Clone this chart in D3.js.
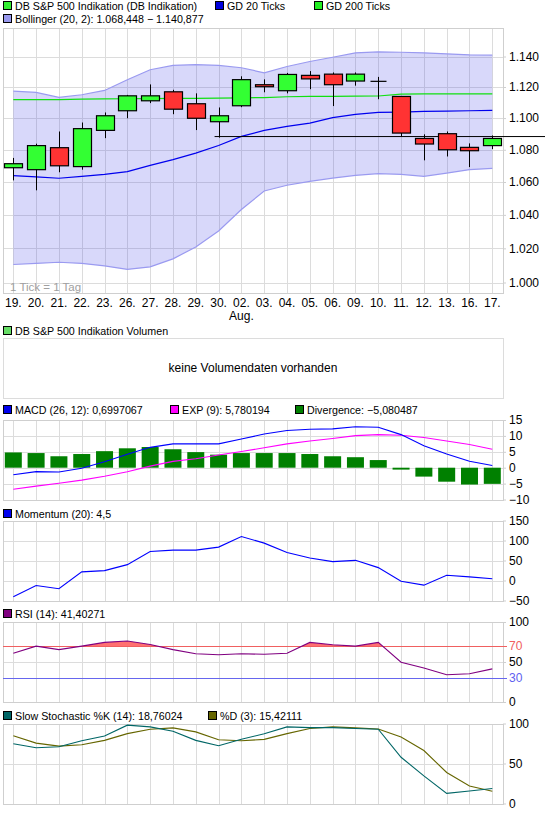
<!DOCTYPE html>
<html><head><meta charset="utf-8">
<script src="https://cdn.jsdelivr.net/npm/d3@7"></script>
<style>
body{margin:0;background:#fff;}
svg{display:block;font-family:"Liberation Sans",Arial,sans-serif;font-size:11px;}
</style></head>
<body>
<script>
const dates = ["19.","20.","21.","22.","23.","26.","27.","28.","29.","30.","02.","03.","04.","05.","06.","09.","10.","11.","12.","13.","16.","17."];
const subLabels = {"02.":"Aug."};
const open  = [1.0688,1.0676,1.0813,1.0695,1.0922,1.1047,1.1111,1.1169,1.1092,1.0977,1.1079,1.1215,1.1176,1.1276,1.1284,1.1239,1.1237,1.1139,1.0871,1.0901,1.0815,1.0826];
const close = [1.0713,1.0826,1.0700,1.0933,1.1015,1.1143,1.1143,1.1057,1.0999,1.1015,1.1248,1.1202,1.1282,1.1253,1.1215,1.1284,1.1237,1.0905,1.0836,1.0800,1.0794,1.0871];
const high  = [1.0749,1.0838,1.0915,1.0972,1.1036,1.1149,1.1217,1.1182,1.1159,1.1068,1.1270,1.1250,1.1292,1.1304,1.1295,1.1295,1.1266,1.1139,1.0897,1.0915,1.0840,1.0890];
const low   = [1.0610,1.0549,1.0660,1.0676,1.0873,1.0999,1.1096,1.1025,1.0924,1.0876,1.1070,1.1166,1.1159,1.1186,1.1077,1.1209,1.1121,1.0884,1.0734,1.0758,1.0692,1.0804];
const gd20  = [1.0639,1.0631,1.0623,1.0635,1.0647,1.0664,1.0703,1.0738,1.0779,1.0827,1.0884,1.0922,1.0947,1.0968,1.1003,1.1024,1.1036,1.1038,1.1043,1.1045,1.1047,1.1049];
const gd200 = [1.1118,1.1118,1.1118,1.1122,1.1123,1.1124,1.1125,1.1126,1.1127,1.1128,1.1130,1.1132,1.1137,1.1139,1.1140,1.1141,1.1142,1.1154,1.1155,1.1155,1.1156,1.1156];
const bollUpper = [1.1173,1.1165,1.1133,1.1150,1.1178,1.1247,1.1313,1.1341,1.1347,1.1341,1.1326,1.1293,1.1334,1.1367,1.1395,1.1424,1.1431,1.1428,1.1424,1.1418,1.1411,1.1409];
const bollLower = [1.0105,1.0111,1.0118,1.0111,1.0097,1.0076,1.0091,1.0138,1.0208,1.0303,1.0432,1.0545,1.0580,1.0604,1.0624,1.0641,1.0652,1.0647,1.0635,1.0655,1.0676,1.0684];
const refLine = 1.0883;
const refStart = 9;
const priceTicks = [1.000,1.020,1.040,1.060,1.080,1.100,1.120,1.140];

const macd       = [-2.2,-1.25,-1.35,-0.2,1.9,4.2,6.4,7.5,7.5,7.5,9.0,10.6,11.7,12.1,12.2,12.9,12.7,10.4,6.9,4.3,2.0,0.70];
const expLine    = [-6.8,-5.8,-4.9,-3.9,-2.7,-1.25,0.5,2.0,2.8,4.0,5.1,6.25,7.5,8.4,9.2,10.1,10.4,10.2,9.5,8.4,7.3,5.78];
const divergence = [4.8,4.6,3.6,4.3,5.2,6.1,6.5,5.8,4.9,4.1,4.6,4.6,4.6,4.3,3.6,3.3,2.4,-0.6,-2.8,-4.4,-5.3,-5.08];
const macdTicks  = [15,10,5,0,-5,-10];

const momentum   = [-40.5,-12.4,-20.7,21.5,24.8,39.7,72.7,76,76,83.5,110,93.4,70.2,56.2,47.1,50.4,32.2,-1.7,-11.6,13.2,9.1,4.5];
const momTicks   = [150,100,50,0,-50];

const rsi        = [60.9,69.8,65.5,69.8,74.5,76.2,71.9,65.5,60.4,59.1,60.4,59.6,60.9,74.5,71.5,69.8,74.5,49.8,42.6,34.0,35.3,41.4];
const rsiTicks   = [100,50,0];
const rsiLevels  = [70,30];

const stochK     = [74.7,69.6,70.9,78.5,84.4,97.9,95.8,90.3,78.9,72.2,80.2,87.3,95.8,94.9,94.9,93.7,92.8,57.8,34.6,12.7,15.6,18.76];
const stochD     = [84.8,75.5,71.7,73.4,78.9,87.3,92.8,94.5,89.5,79.7,78.5,80.2,87.3,93.7,95.8,94.5,93.2,83.1,66.2,38.8,21.9,15.42];
const stochTicks = [100,50,0];

const W = 545, H = 824;
const L = 3, R = 503;
const svg = d3.select("body").append("svg").attr("width", W).attr("height", H);
const x = d3.scalePoint().domain(d3.range(dates.length)).range([13.3, 492.3]);
const gridCol = "#dcdcdc", borderCol = "#cfcfcf";
const fmtDe = d3.formatLocale({decimal:",", thousands:".", grouping:[3], currency:["","€"], minus:"\u2212"});
const FONT = '"Liberation Sans",Arial,sans-serif';

function legend(y, items){
  const g = svg.append("g");
  items.forEach(it => {
    g.append("rect").attr("x", it.x+0.5).attr("y", y-4.5).attr("width", 8).attr("height", 8)
      .attr("fill", it.color).attr("stroke", "#000").attr("stroke-width", 1);
    g.append("text").attr("x", it.x+12).attr("y", y+4).attr("fill", "#000").attr("font-size", 10.7).text(it.label);
  });
}

function panelGrid(y, ticks, top, bottom, fmt){
  const g = svg.append("g").attr("shape-rendering","crispEdges");
  g.selectAll(".v").data(d3.range(dates.length)).join("line")
    .attr("x1", i => Math.round(x(i))+0.5).attr("x2", i => Math.round(x(i))+0.5)
    .attr("y1", top).attr("y2", bottom).attr("stroke", gridCol);
  g.selectAll(".h").data(ticks).join("line")
    .attr("x1", L).attr("x2", R).attr("y1", d => Math.round(y(d))+0.5).attr("y2", d => Math.round(y(d))+0.5)
    .attr("stroke", gridCol);
  g.append("rect").attr("x", L+0.5).attr("y", Math.round(top)+0.5).attr("width", R-L).attr("height", Math.round(bottom)-Math.round(top))
    .attr("fill","none").attr("stroke", borderCol);
  const ax = svg.append("g").attr("transform", `translate(${R},0)`)
    .call(d3.axisRight(y).tickValues(ticks).tickSize(3).tickPadding(3).tickFormat(fmt));
  ax.select(".domain").remove();
  ax.selectAll(".tick line").attr("stroke", borderCol);
  ax.selectAll("text").attr("font-size", 12).attr("font-family", FONT).attr("fill", "#000");
  return g;
}

// ---------- Main chart ----------
legend(6, [
  {x:3, color:"#33ee33", label:"DB S&P 500 Indikation (DB Indikation)"},
  {x:215, color:"#0000dd", label:"GD 20 Ticks"},
  {x:314, color:"#22ee22", label:"GD 200 Ticks"}
]);
legend(19, [{x:3, color:"#9999ee", label:"Bollinger (20, 2): 1.068,448 \u2212 1.140,877"}]);

const yP = d3.scaleLog().domain([1.000, 1.140]).range([282.5, 56.5]);
const mainTop = 28, mainBot = 293;
panelGrid(yP, priceTicks, mainTop, mainBot, d3.format(".3f"));

svg.append("text").attr("x", 10).attr("y", 291).attr("fill", "#a0a0a0").attr("font-size", 11.5).text("1 Tick = 1 Tag");

// Bollinger band
const bandArea = d3.area().x((d,i)=>x(i)).y0((d,i)=>yP(bollLower[i])).y1((d,i)=>yP(bollUpper[i]));
svg.append("path").datum(bollUpper).attr("d", bandArea).attr("fill", "rgba(77,77,233,0.22)");
const lineP = arr => d3.line().x((d,i)=>x(i)).y(d=>yP(d))(arr);
svg.append("path").attr("d", lineP(bollUpper)).attr("fill","none").attr("stroke","#9a9af0").attr("stroke-width",1.2);
svg.append("path").attr("d", lineP(bollLower)).attr("fill","none").attr("stroke","#9a9af0").attr("stroke-width",1.2);
svg.append("path").attr("d", lineP(gd200)).attr("fill","none").attr("stroke","#11e011").attr("stroke-width",1.2);
svg.append("path").attr("d", lineP(gd20)).attr("fill","none").attr("stroke","#0000ee").attr("stroke-width",1.2);

// reference line
svg.append("line").attr("x1", x(refStart)-4).attr("x2", W).attr("y1", yP(refLine)).attr("y2", yP(refLine))
  .attr("stroke","#000").attr("stroke-width",1);

// candles
const cg = svg.append("g");
dates.forEach((d,i) => {
  const cx = Math.round(x(i))+0.5;
  cg.append("line").attr("x1",cx).attr("x2",cx).attr("y1",yP(high[i])).attr("y2",yP(low[i])).attr("stroke","#000").attr("stroke-width",1);
  const yo = yP(open[i]), yc = yP(close[i]);
  if (Math.abs(yo-yc) < 0.6) {
    cg.append("line").attr("x1",cx-8).attr("x2",cx+8).attr("y1",yo).attr("y2",yo).attr("stroke","#000").attr("stroke-width",1.2);
  } else {
    cg.append("rect").attr("x", cx-9).attr("y", Math.min(yo,yc)).attr("width", 18).attr("height", Math.abs(yo-yc))
      .attr("fill", close[i] > open[i] ? "#33ff33" : "#ff3333").attr("stroke","#000").attr("stroke-width",1.2);
  }
});

// date labels
const dl = svg.append("g");
dates.forEach((d,i) => {
  dl.append("text").attr("x", x(i)).attr("y", 307).attr("text-anchor","middle").attr("font-size",12).text(d);
  if (subLabels[d]) dl.append("text").attr("x", x(i)).attr("y", 320).attr("text-anchor","middle").attr("font-size",12).text(subLabels[d]);
});

// ---------- Volume ----------
legend(331, [{x:3, color:"#66dd66", label:"DB S&P 500 Indikation Volumen"}]);
svg.append("rect").attr("x", L+0.5).attr("y", 338.5).attr("width", R-L).attr("height", 60).attr("fill","none").attr("stroke", gridCol);
svg.append("text").attr("x", (L+R)/2).attr("y", 372).attr("text-anchor","middle").attr("font-size",12).text("keine Volumendaten vorhanden");

// ---------- MACD ----------
legend(410, [
  {x:3, color:"#0000ee", label:"MACD (26, 12): 0,6997067"},
  {x:170, color:"#ff00ff", label:"EXP (9): 5,780194"},
  {x:295, color:"#008000", label:"Divergence: \u22125,080487"}
]);
const yM = d3.scaleLinear().domain([-10, 15]).range([499.5, 420]);
panelGrid(yM, macdTicks, 420, 499.5, fmtDe.format("d"));
svg.append("g").selectAll("rect").data(divergence).join("rect")
  .attr("x", (d,i)=>x(i)-8.5).attr("width", 17)
  .attr("y", d => yM(Math.max(d,0))).attr("height", d => Math.abs(yM(d)-yM(0)))
  .attr("fill", "#008000");
const lineM = arr => d3.line().x((d,i)=>x(i)).y(d=>yM(d))(arr);
svg.append("path").attr("d", lineM(expLine)).attr("fill","none").attr("stroke","#ff00ff").attr("stroke-width",1.1);
svg.append("path").attr("d", lineM(macd)).attr("fill","none").attr("stroke","#0000ff").attr("stroke-width",1.1);

// ---------- Momentum ----------
legend(514, [{x:3, color:"#0000ee", label:"Momentum (20): 4,5"}]);
const yMo = d3.scaleLinear().domain([-50, 150]).range([600.5, 520.5]);
panelGrid(yMo, momTicks, 520.5, 600.5, fmtDe.format("d"));
svg.append("path").attr("d", d3.line().x((d,i)=>x(i)).y(d=>yMo(d))(momentum)).attr("fill","none").attr("stroke","#0000ff").attr("stroke-width",1.1);

// ---------- RSI ----------
legend(614, [{x:3, color:"#800080", label:"RSI (14): 41,40271"}]);
const yR = d3.scaleLinear().domain([0, 100]).range([702, 622]);
panelGrid(yR, rsiTicks, 622, 702, fmtDe.format("d"));
const rax = svg.append("g").attr("transform", `translate(${R},0)`)
  .call(d3.axisRight(yR).tickValues(rsiLevels).tickSize(0).tickPadding(6).tickFormat(d3.format("d")));
rax.select(".domain").remove();
rax.selectAll("text").attr("font-size",12).attr("font-family",FONT).attr("fill", d => d===70 ? "#f06060" : "#6060f0");
svg.append("clipPath").attr("id","above70").append("rect").attr("x",L).attr("y",622).attr("width",R-L).attr("height", yR(70)-622);
svg.append("path").attr("clip-path","url(#above70)")
  .attr("d", d3.area().x((d,i)=>x(i)).y0(yR(70)).y1(d=>yR(d))(rsi)).attr("fill","#ff7070");
svg.append("line").attr("x1",L).attr("x2",R+4).attr("y1",Math.round(yR(70))+0.5).attr("y2",Math.round(yR(70))+0.5).attr("stroke","#f06060");
svg.append("line").attr("x1",L).attr("x2",R+4).attr("y1",Math.round(yR(30))+0.5).attr("y2",Math.round(yR(30))+0.5).attr("stroke","#6666ee");
svg.append("path").attr("d", d3.line().x((d,i)=>x(i)).y(d=>yR(d))(rsi)).attr("fill","none").attr("stroke","#800080").attr("stroke-width",1.1);

// ---------- Stochastic ----------
legend(716, [
  {x:3, color:"#006666", label:"Slow Stochastic %K (14): 18,76024"},
  {x:208, color:"#666600", label:"%D (3): 15,42111"}
]);
const yS = d3.scaleLinear().domain([0, 100]).range([803.5, 723.5]);
panelGrid(yS, stochTicks, 723.5, 803.5, fmtDe.format("d"));
svg.append("path").attr("d", d3.line().x((d,i)=>x(i)).y(d=>yS(d))(stochD)).attr("fill","none").attr("stroke","#666600").attr("stroke-width",1.1);
svg.append("path").attr("d", d3.line().x((d,i)=>x(i)).y(d=>yS(d))(stochK)).attr("fill","none").attr("stroke","#006666").attr("stroke-width",1.1);
</script>
</body></html>
